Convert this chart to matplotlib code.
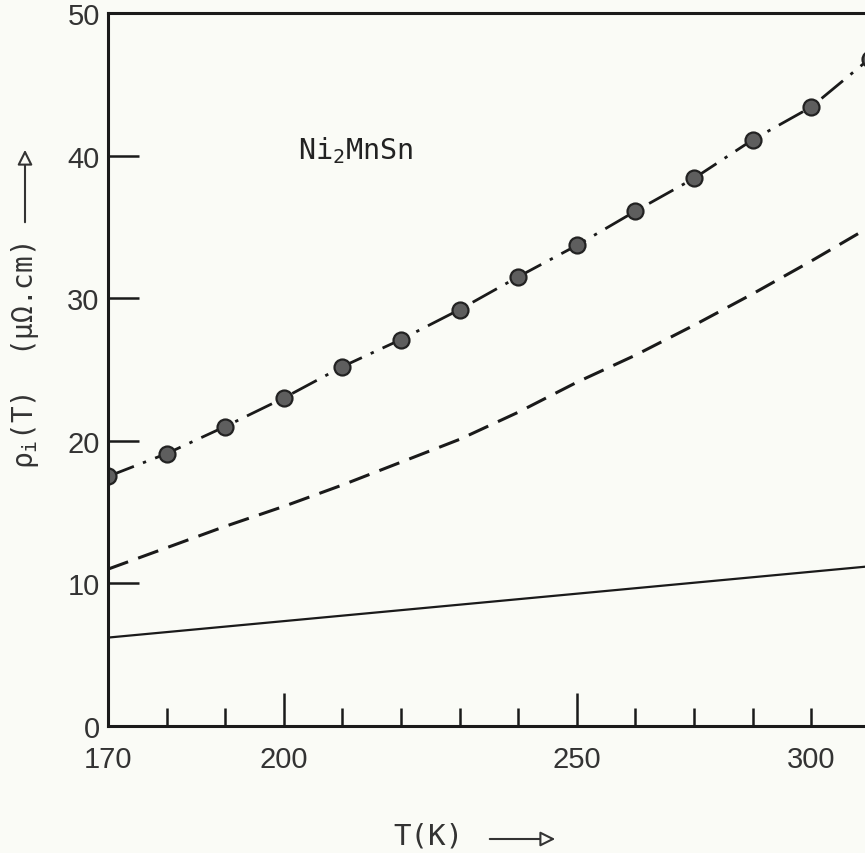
import matplotlib.pyplot as plt
from matplotlib.patches import FancyArrowPatch

# temperature (K) and resistivity (micro-ohm cm)
T = [170, 180, 190, 200, 210, 220, 230, 240, 250, 260, 270, 280, 290, 300]
rho_meas = [17.5, 19.1, 21.0, 23.0, 25.2, 27.1, 29.2, 31.5, 33.7, 36.1, 38.4, 41.1, 43.4, 46.8]
rho_dash = [11.0, 12.5, 14.0, 15.4, 16.9, 18.5, 20.1, 22.0, 24.1, 26.0, 28.1, 30.3, 32.6, 35.0]
T_solid = [170, 300]
rho_solid = [6.2, 11.2]

x_major = [170, 200, 250, 290]
x_labels = ['170', '200', '250', '300']
x_minor = [180, 190, 210, 220, 230, 240, 260, 270, 280]
y_ticks = [0, 10, 20, 30, 40, 50]

bg = '#fafbf6'
ink = '#1a1a1a'
tick_font = ['Liberation Sans', 'DejaVu Sans']
mono = ['DejaVu Sans Mono', 'DejaVu Sans']

fig = plt.figure(figsize=(8.65, 8.54), dpi=100, facecolor=bg)
ax = fig.add_axes([108 / 865, 127 / 854, 757 / 865, 713 / 854], facecolor=bg)

ax.plot(T_solid, rho_solid, color=ink, lw=1.6)
ax.plot(T, rho_dash, color=ink, lw=2.2, dashes=(7, 3.5))
ax.plot(T, rho_meas, color=ink, lw=2.0, dashes=(10, 3.5, 1.2, 3.5),
        marker='o', markersize=11.5, markerfacecolor='#5e5e5e',
        markeredgecolor='#222222', markeredgewidth=1.6)

ax.set_xlim(170, 299.2)
ax.set_ylim(0, 50)

ax.spines['right'].set_visible(False)
for s in ['left', 'bottom', 'top']:
    ax.spines[s].set_linewidth(2.2)
    ax.spines[s].set_color(ink)

ax.set_xticks(x_major, x_labels)
ax.set_xticks(x_minor, minor=True)
ax.set_yticks(y_ticks, [str(v) for v in y_ticks])
ax.tick_params(axis='x', which='major', direction='in', length=24, width=1.8,
               pad=14, labelsize=21, colors=ink)
ax.tick_params(axis='x', which='minor', direction='in', length=13, width=1.8, colors=ink)
ax.tick_params(axis='y', direction='in', length=22, width=1.8, pad=6,
               labelsize=21, colors=ink)
ax.xaxis.get_major_ticks()[3].tick1line.set_markersize(13)
for lab in ax.get_xticklabels() + ax.get_yticklabels():
    lab.set_family(tick_font)
    lab.set_color('#333333')

ax.text(202.4, 39.8, 'Ni$_\\mathregular{2}$MnSn', fontsize=20.5, family=mono,
        color='#222222', va='baseline', ha='left')

# axis titles with hand-drawn style arrows
fig.text(25 / 865, 1 - 356 / 854, 'ρ$_\\mathregular{i}$(T)  (μΩ.cm)', rotation=90,
         fontsize=20, family=mono, color='#333333', ha='center', va='center')
fig.text(428 / 865, 1 - 837 / 854, 'T(K)', fontsize=21, family=mono,
         color='#333333', ha='center', va='center')

arrow_kw = dict(arrowstyle='-|>,head_length=9,head_width=4.5', mutation_scale=1,
                lw=1.5, ec='#333333', fc=bg, transform=fig.transFigure)
fig.add_artist(FancyArrowPatch((25 / 865, 1 - 226 / 854), (25 / 865, 1 - 148 / 854), **arrow_kw))
fig.add_artist(FancyArrowPatch((487 / 865, 1 - 840 / 854), (558 / 865, 1 - 840 / 854), **arrow_kw))

fig.savefig('out.png', dpi=100, facecolor=bg)
